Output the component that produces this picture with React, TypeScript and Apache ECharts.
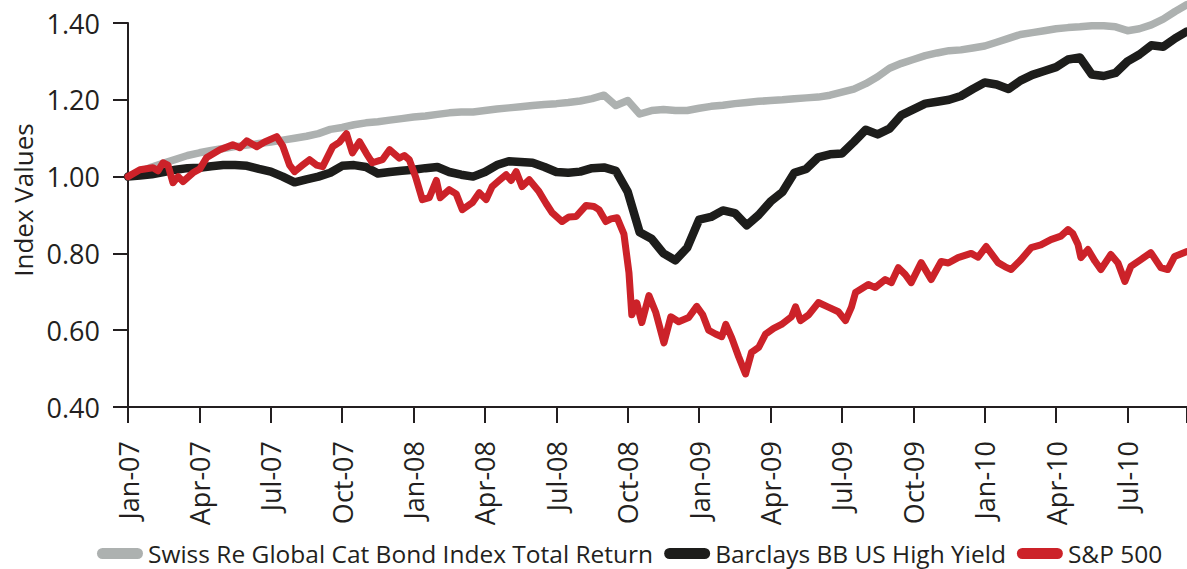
import React, { useEffect, useRef } from 'react';
import * as echarts from 'echarts';

// x positions are months since Jan-07
const quarterLabels = [
  'Jan-07', 'Apr-07', 'Jul-07', 'Oct-07',
  'Jan-08', 'Apr-08', 'Jul-08', 'Oct-08',
  'Jan-09', 'Apr-09', 'Jul-09', 'Oct-09',
  'Jan-10', 'Apr-10', 'Jul-10',
];

const seriesNames = [
  'Swiss Re Global Cat Bond Index Total Return',
  'Barclays BB US High Yield',
  'S&P 500',
];

const seriesColors = ['#adb1b0', '#1d1d1b', '#cc2229'];

// half-month samples, Jan-07 .. mid Sep-10
const halfMonthStep = 0.5;

const swissRe = [
  1.000, 1.012, 1.025, 1.035, 1.045, 1.055, 1.062, 1.068, 1.073, 1.078,
  1.082, 1.086, 1.090, 1.095, 1.100, 1.105, 1.112, 1.123, 1.128, 1.135,
  1.140, 1.143, 1.147, 1.151, 1.155, 1.158, 1.162, 1.166, 1.168, 1.168,
  1.172, 1.176, 1.179, 1.182, 1.185, 1.188, 1.190, 1.193, 1.197, 1.203,
  1.212, 1.185, 1.198, 1.163, 1.172, 1.175, 1.172, 1.172, 1.178, 1.183,
  1.186, 1.190, 1.193, 1.196, 1.198, 1.200, 1.203, 1.205, 1.207, 1.212,
  1.220, 1.228, 1.242, 1.260, 1.282, 1.295, 1.305, 1.315, 1.322, 1.328,
  1.330, 1.335, 1.340, 1.350, 1.360, 1.370, 1.375, 1.380, 1.385, 1.388,
  1.390, 1.393, 1.393, 1.390, 1.380, 1.385, 1.395, 1.410, 1.430, 1.448,
];

const barclays = [
  1.000, 1.003, 1.006, 1.012, 1.018, 1.022, 1.023, 1.027, 1.030, 1.030,
  1.028, 1.020, 1.013, 1.000, 0.985, 0.993, 1.000, 1.010, 1.028, 1.030,
  1.025, 1.008, 1.012, 1.015, 1.018, 1.022, 1.025, 1.012, 1.005, 1.000,
  1.012, 1.030, 1.040, 1.038, 1.036, 1.025, 1.012, 1.010, 1.013, 1.022,
  1.024, 1.015, 0.960, 0.855, 0.838, 0.800, 0.782, 0.815, 0.888, 0.895,
  0.912, 0.905, 0.873, 0.900, 0.935, 0.960, 1.010, 1.020, 1.050, 1.058,
  1.060, 1.090, 1.122, 1.110, 1.125, 1.160, 1.175, 1.190, 1.195, 1.200,
  1.210, 1.228, 1.245, 1.240, 1.228, 1.250, 1.265, 1.275, 1.285, 1.305,
  1.310, 1.266, 1.262, 1.270, 1.300, 1.318, 1.342, 1.338, 1.360, 1.378,
];

// [month, value] at the turning points of the weekly S&P 500 series
const sp500: [number, number][] = [
  [0, 1.0], [0.5, 1.018], [1.05, 1.023], [1.26, 1.015], [1.47, 1.036], [1.68, 1.03],
  [1.89, 0.984], [2.1, 1.0], [2.31, 0.987], [2.73, 1.01], [3.02, 1.02], [3.31, 1.05],
  [3.86, 1.07], [4.4, 1.083], [4.7, 1.075], [4.99, 1.093], [5.41, 1.078], [5.74, 1.09],
  [6.25, 1.104], [6.5, 1.08], [6.79, 1.03], [7.0, 1.013], [7.34, 1.03], [7.63, 1.044],
  [7.92, 1.03], [8.18, 1.026], [8.6, 1.078], [8.89, 1.09], [9.18, 1.112], [9.43, 1.062],
  [9.73, 1.091], [10.02, 1.06], [10.27, 1.036], [10.69, 1.044], [10.99, 1.07], [11.4, 1.048],
  [11.61, 1.055], [11.82, 1.044], [12.08, 1.0], [12.37, 0.94], [12.66, 0.945], [12.96, 0.99],
  [13.12, 0.945], [13.5, 0.966], [13.79, 0.955], [14.05, 0.914], [14.47, 0.932], [14.76, 0.958],
  [15.05, 0.94], [15.3, 0.974], [15.6, 0.99], [15.89, 1.005], [16.1, 0.99], [16.31, 1.013],
  [16.56, 0.974], [16.86, 0.992], [17.27, 0.961], [17.57, 0.93], [17.82, 0.906], [18.24, 0.883],
  [18.53, 0.895], [18.83, 0.896], [19.25, 0.925], [19.58, 0.922], [19.79, 0.914], [20.08, 0.883],
  [20.29, 0.89], [20.55, 0.893], [20.84, 0.85], [21.05, 0.75], [21.17, 0.64], [21.38, 0.671],
  [21.59, 0.62], [21.89, 0.69], [22.18, 0.646], [22.52, 0.567], [22.81, 0.635], [23.14, 0.622],
  [23.56, 0.633], [23.9, 0.662], [24.15, 0.64], [24.4, 0.6], [24.69, 0.59], [24.95, 0.583],
  [25.12, 0.615], [25.37, 0.58], [25.66, 0.531], [25.95, 0.486], [26.2, 0.542], [26.5, 0.555],
  [26.79, 0.59], [27.13, 0.605], [27.46, 0.615], [27.88, 0.635], [28.05, 0.661], [28.26, 0.625],
  [28.6, 0.64], [29.01, 0.672], [29.43, 0.66], [29.85, 0.648], [30.15, 0.625], [30.4, 0.66],
  [30.57, 0.698], [31.11, 0.719], [31.4, 0.711], [31.82, 0.732], [32.08, 0.724], [32.37, 0.763],
  [32.66, 0.745], [32.91, 0.724], [33.33, 0.776], [33.75, 0.732], [34.17, 0.779], [34.47, 0.775],
  [34.88, 0.789], [35.43, 0.8], [35.72, 0.79], [36.06, 0.818], [36.56, 0.776], [36.86, 0.765],
  [37.11, 0.758], [37.53, 0.784], [37.95, 0.815], [38.36, 0.822], [38.78, 0.836], [39.2, 0.845],
  [39.5, 0.862], [39.7, 0.852], [39.92, 0.823], [40.04, 0.789], [40.34, 0.81], [40.63, 0.78],
  [40.88, 0.758], [41.3, 0.797], [41.6, 0.775], [41.89, 0.727], [42.14, 0.766], [42.56, 0.784],
  [42.98, 0.802], [43.4, 0.763], [43.69, 0.758], [43.98, 0.792], [44.5, 0.805],
];

const yTicks = { min: 0.4, max: 1.4, step: 0.2 };
const xRange = { min: 0, max: 44.5, step: 3 };

const ink = '#231f20';
const font = 'Open Sans';
const pill = 'path://M5.5,0H40.5A5.5,5.5,0,0,1,40.5,11H5.5A5.5,5.5,0,0,1,5.5,0Z';

export default function App() {
  const ref = useRef<HTMLDivElement>(null);

  useEffect(() => {
    document.body.style.margin = '0';
    const chart = echarts.init(ref.current as HTMLDivElement, null, { renderer: 'svg' });
    const toPairs = (arr: number[]) => arr.map((v, i) => [i * halfMonthStep, v]);
    const datasets = [toPairs(swissRe), toPairs(barclays), sp500];
    const widths = [7.5, 8.5, 7];
    const axisLineStyle = { color: ink, width: 2 };

    chart.setOption({
      animation: false,
      textStyle: { fontFamily: font, color: ink },
      grid: { left: 128, right: 0, top: 23, bottom: 162 },
      xAxis: {
        type: 'value',
        min: xRange.min,
        max: xRange.max,
        interval: xRange.step,
        axisLine: { show: true, lineStyle: axisLineStyle },
        axisTick: { show: true, length: 16, lineStyle: axisLineStyle },
        splitLine: { show: false },
        axisLabel: {
          rotate: 90,
          margin: 34,
          fontSize: 27,
          color: ink,
          fontFamily: font,
          formatter: (v: number) => {
            const q = v / xRange.step;
            return Number.isInteger(q) && q < quarterLabels.length ? quarterLabels[q] : '';
          },
        },
      },
      yAxis: {
        type: 'value',
        min: yTicks.min,
        max: yTicks.max,
        interval: yTicks.step,
        name: 'Index Values',
        nameLocation: 'middle',
        nameGap: 92,
        nameTextStyle: { fontSize: 26, color: ink, fontFamily: font, padding: [0, 0, 0, 30] },
        axisLine: { show: true, lineStyle: axisLineStyle },
        axisTick: { show: true, length: 15, lineStyle: axisLineStyle },
        splitLine: { show: false },
        axisLabel: {
          margin: 28,
          fontSize: 27,
          color: ink,
          fontFamily: font,
          formatter: (v: number) => v.toFixed(2),
        },
      },
      legend: {
        left: 97,
        top: 541,
        padding: 0,
        itemWidth: 46,
        itemHeight: 11,
        itemGap: 11,
        textStyle: { fontSize: 24.5, color: ink, fontFamily: font },
        data: seriesNames.map((n) => ({ name: n, icon: pill })),
      },
      series: seriesNames.map((name, i) => ({
        name,
        type: 'line',
        data: datasets[i],
        symbol: 'none',
        showSymbol: false,
        clip: false,
        z: 2 + i,
        lineStyle: { color: seriesColors[i], width: widths[i], join: 'round', cap: 'round' },
        itemStyle: { color: seriesColors[i] },
      })),
    });

    return () => chart.dispose();
  }, []);

  return <div ref={ref} style={{ width: 1187, height: 569 }} />;
}
